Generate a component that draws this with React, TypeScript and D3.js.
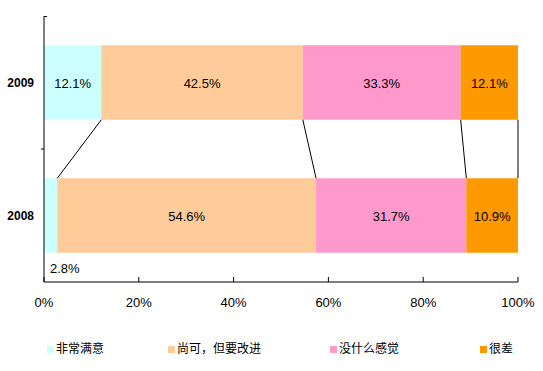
import * as d3 from "d3";

const YEARS = ["2009", "2008"];
const SERIES = ["非常满意", "尚可，但要改进", "没什么感觉", "很差"];
const COLORS = ["#CCFFFF", "#FFCC99", "#FF99CC", "#FF9900"];
const VALUES_2009 = [12.1, 42.5, 33.3, 12.1];
const VALUES_2008 = [2.8, 54.6, 31.7, 10.9];
const X_TICKS = [0, 20, 40, 60, 80, 100];

const W = 543;
const H = 371;
const PLOT = { left: 44, right: 518, top: 16, bottom: 282 };
const LEGEND_X = [47, 168, 330, 480];
const FONT = "Liberation Sans, Arial, sans-serif";

const ROWS = [VALUES_2009, VALUES_2008];

export default function App() {
    const x = d3.scaleLinear().domain([0, 100]).range([PLOT.left, PLOT.right]);
    const y = d3.scaleBand().domain(YEARS).range([PLOT.top, PLOT.bottom]).paddingInner(0.44).paddingOuter(0.22);

    // cumulative [start, end] per segment
    const stacks = ROWS.map((vals) => {
        const ends = d3.cumsum(vals);
        return vals.map((v, i) => [ends[i] - v, ends[i]] as [number, number]);
    });

    const bw = y.bandwidth();
    const y09 = y("2009")!;
    const y08 = y("2008")!;

    return (
        <svg width={W} height={H} style={{ position: "absolute", left: 0, top: 0, background: "#fff" }}>
            {stacks.map((segs, r) =>
                segs.map(([a, b], i) => (
                    <rect key={`${r}-${i}`} x={x(a)} y={y(YEARS[r])!} width={x(b) - x(a)} height={bw} fill={COLORS[i]} />
                ))
            )}

            {/* series lines linking segment boundaries */}
            {stacks[0].map(([, b], i) => (
                <line key={i} x1={x(b)} y1={y09 + bw} x2={x(stacks[1][i][1])} y2={y08} stroke="#000" strokeWidth={1} />
            ))}

            {stacks.map((segs, r) =>
                segs.map(([a, b], i) => {
                    const small = b - a < 5;
                    return (
                        <text
                            key={`t${r}-${i}`}
                            x={small ? x(a) + 6 : (x(a) + x(b)) / 2}
                            y={small ? y(YEARS[r])! + bw + 20 : y(YEARS[r])! + bw / 2 + 5}
                            textAnchor={small ? "start" : "middle"}
                            fontFamily={FONT}
                            fontSize={13}
                        >
                            {ROWS[r][i].toFixed(1)}%
                        </text>
                    );
                })
            )}

            {/* axes */}
            <line x1={PLOT.left} y1={PLOT.top} x2={PLOT.left} y2={PLOT.bottom} stroke="#000" />
            <line x1={PLOT.left} y1={PLOT.bottom} x2={PLOT.right} y2={PLOT.bottom} stroke="#000" />
            <line x1={PLOT.left} y1={PLOT.top + 0.5} x2={PLOT.left + 3} y2={PLOT.top + 0.5} stroke="#000" />
            <line x1={PLOT.left - 3} y1={(PLOT.top + PLOT.bottom) / 2} x2={PLOT.left} y2={(PLOT.top + PLOT.bottom) / 2} stroke="#000" />
            {X_TICKS.map((t) => (
                <g key={t}>
                    <line x1={x(t)} y1={PLOT.bottom - 5} x2={x(t)} y2={PLOT.bottom} stroke="#000" />
                    <text x={x(t)} y={PLOT.bottom + 25} textAnchor="middle" fontFamily={FONT} fontSize={13}>
                        {t}%
                    </text>
                </g>
            ))}
            {YEARS.map((yr) => (
                <text key={yr} x={34} y={y(yr)! + bw / 2 + 4} textAnchor="end" fontFamily={FONT} fontSize={12} fontWeight="bold">
                    {yr}
                </text>
            ))}

            {/* legend */}
            {SERIES.map((s, i) => (
                <g key={s}>
                    <rect x={LEGEND_X[i]} y={346} width={7} height={7} fill={COLORS[i]} />
                    <text x={LEGEND_X[i] + 9} y={353} fontFamily="Noto Sans CJK SC, sans-serif" fontSize={12}>
                        {s}
                    </text>
                </g>
            ))}
        </svg>
    );
}
